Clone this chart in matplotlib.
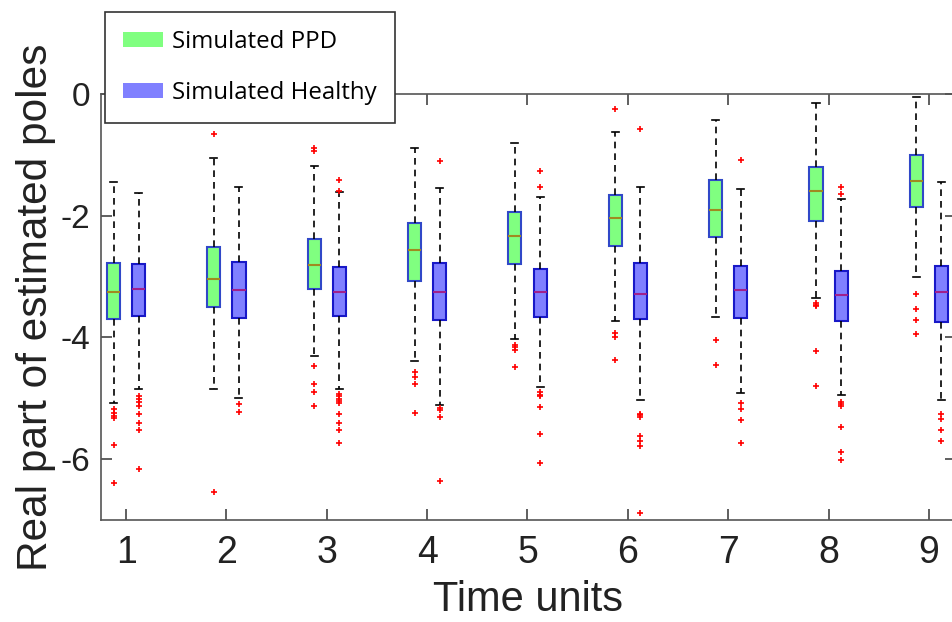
import matplotlib
matplotlib.use("Agg")
import matplotlib.pyplot as plt
from matplotlib.patches import Patch

time_units = [1, 2, 3, 4, 5, 6, 7, 8, 9]

# Simulated PPD statistics
ppd_whislo = [-5.07, -4.84, -4.30, -4.38, -4.02, -3.73, -3.66, -3.36, -3.00]
ppd_q1     = [-3.69, -3.50, -3.21, -3.07, -2.79, -2.50, -2.35, -2.09, -1.86]
ppd_med    = [-3.25, -3.04, -2.81, -2.57, -2.33, -2.03, -1.91, -1.60, -1.43]
ppd_q3     = [-2.78, -2.52, -2.38, -2.12, -1.94, -1.66, -1.42, -1.20, -1.00]
ppd_whishi = [-1.45, -1.05, -1.18, -0.89, -0.80, -0.63, -0.42, -0.14, -0.05]
ppd_fliers = [
    [-5.17, -5.24, -5.29, -5.33, -5.76, -6.40],
    [-0.66, -6.54],
    [-0.89, -0.93, -4.47, -4.76, -4.90, -5.13],
    [-4.56, -4.65, -4.76, -5.24],
    [-4.12, -4.16, -4.21, -4.49],
    [-0.24, -3.92, -3.99, -4.37],
    [-4.05, -4.46],
    [-3.44, -3.47, -3.49, -4.22, -4.80],
    [-3.28, -3.54, -3.72, -3.94],
]

# Simulated Healthy statistics
hea_whislo = [-4.85, -5.00, -4.85, -5.11, -4.82, -5.02, -4.92, -4.95, -5.02]
hea_q1     = [-3.65, -3.68, -3.65, -3.72, -3.67, -3.69, -3.68, -3.73, -3.74]
hea_med    = [-3.20, -3.22, -3.25, -3.25, -3.25, -3.28, -3.22, -3.31, -3.25]
hea_q3     = [-2.79, -2.76, -2.84, -2.78, -2.87, -2.77, -2.83, -2.91, -2.83]
hea_whishi = [-1.62, -1.53, -1.61, -1.55, -1.69, -1.53, -1.56, -1.73, -1.45]
hea_fliers = [
    [-4.96, -5.01, -5.06, -5.12, -5.26, -5.41, -5.52, -6.16],
    [-5.09, -5.23],
    [-1.42, -1.59, -4.93, -4.97, -5.01, -5.05, -5.08, -5.25, -5.41, -5.52, -5.73],
    [-1.10, -5.16, -5.19, -5.30, -6.36],
    [-1.26, -1.53, -4.90, -4.94, -4.97, -5.14, -5.59, -6.06],
    [-0.58, -5.25, -5.27, -5.30, -5.62, -5.70, -5.79, -6.88],
    [-1.08, -5.07, -5.18, -5.35, -5.74],
    [-1.53, -1.64, -5.06, -5.09, -5.13, -5.47, -5.89, -6.02],
    [-5.26, -5.34, -5.52, -5.71],
]

series_labels = ["Simulated PPD", "Simulated Healthy"]
ppd_face, ppd_edge, ppd_medc = "#80FF80", "#3048C8", "#A08A20"
hea_face, hea_edge, hea_medc = "#8080FF", "#1818C8", "#A0208C"


def make_stats(lo, q1, med, q3, hi, fl):
    return [dict(whislo=a, q1=b, med=c, q3=d, whishi=e, fliers=f)
            for a, b, c, d, e, f in zip(lo, q1, med, q3, hi, fl)]


fig = plt.figure(figsize=(9.53, 6.22), dpi=100)
ax = fig.add_axes([101 / 953, 1 - 520 / 622, 855 / 953, 426 / 622])

offset = 0.125
width = 0.13


def draw(stats, shift, face, edge, medc):
    pos = [t + shift for t in time_units]
    ax.bxp(stats, positions=pos, widths=width, capwidths=0.07, patch_artist=True,
           boxprops=dict(facecolor=face, edgecolor=edge, linewidth=1.5),
           medianprops=dict(color=medc, linewidth=1.5),
           whiskerprops=dict(color="black", linewidth=1.2, linestyle=(0, (4, 3))),
           capprops=dict(color="black", linewidth=1.2),
           flierprops=dict(marker="+", markeredgecolor="red", markersize=4,
                           markeredgewidth=1.2, linestyle="none"),
           manage_ticks=False)


draw(make_stats(ppd_whislo, ppd_q1, ppd_med, ppd_q3, ppd_whishi, ppd_fliers),
     -offset, ppd_face, ppd_edge, ppd_medc)
draw(make_stats(hea_whislo, hea_q1, hea_med, hea_q3, hea_whishi, hea_fliers),
     offset, hea_face, hea_edge, hea_medc)

ax.set_xlim(0.75, 9.27)
ax.set_ylim(-7, 0)
ax.set_xticks(time_units)
ax.set_xticklabels([str(t) for t in time_units])
ax.set_yticks([-6, -4, -2, 0])
ax.set_yticklabels(["-6", "-4", "-2", "0"])

for s in ax.spines.values():
    s.set_color("#555555")
    s.set_linewidth(1.2)
ax.tick_params(direction="in", length=8, width=1.2, color="#444444",
               top=True, right=True, labelcolor="#222222")
ax.tick_params(axis="x", labelsize=27, pad=11)
ax.tick_params(axis="y", labelsize=24, pad=8)
for lab in ax.get_xticklabels() + ax.get_yticklabels():
    lab.set_family("Liberation Sans")

ax.set_xlabel("Time units", fontsize=30, family="Liberation Sans", color="#222222", labelpad=6)
ax.set_ylabel("Real part of estimated poles", fontsize=30.5, family="Liberation Sans",
              color="#222222", labelpad=3)

handles = [Patch(facecolor=ppd_face, edgecolor="none"),
           Patch(facecolor=hea_face, edgecolor="none")]
leg = fig.legend(handles, series_labels, loc="upper left",
                 bbox_to_anchor=(105 / 953, 1 - 12 / 622),
                 prop=dict(family="Open Sans", size=17.3),
                 frameon=True, fancybox=False, framealpha=1, edgecolor="#333333",
                 handlelength=1.65, handleheight=0.55, labelspacing=1.12,
                 borderpad=0.75, handletextpad=0.4, borderaxespad=0)
leg.get_frame().set_linewidth(1.2)

fig.savefig("out.png", dpi=100)
